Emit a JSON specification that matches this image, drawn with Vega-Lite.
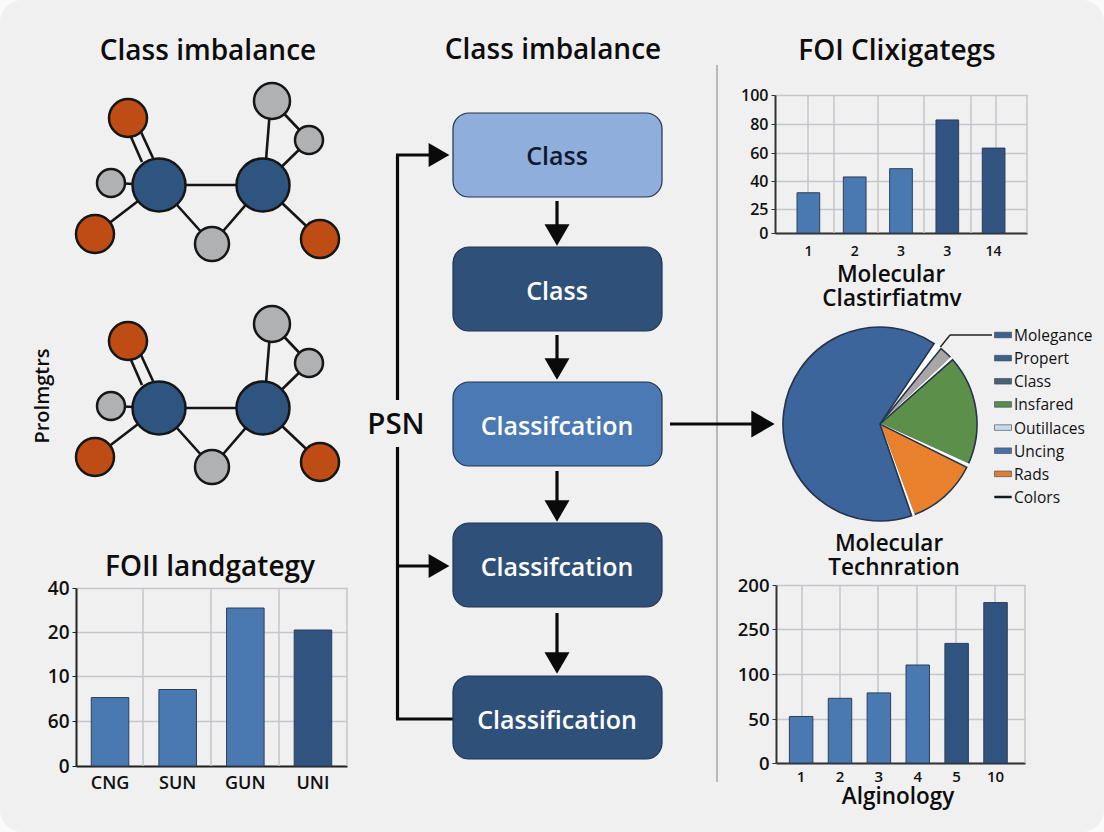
{
"$schema":"https://vega.github.io/schema/vega-lite/v6.json",
"width":1104,"height":832,"padding":0,"autosize":{"type":"none"},
"background":"#fbfbfb",
"view":{"fill":"#f0f0f1","cornerRadius":22,"stroke":null},
"config":{"font":"Open Sans","axis":{"labelFont":"Open Sans","labelFontWeight":600,"labelColor":"#111111","title":null}},
"datasets":{
"segments":[
{"kind":"grid","x":808,"y":95,"x2":808,"y2":233},{"kind":"grid","x":834,"y":95,"x2":834,"y2":233},{"kind":"grid","x":878,"y":95,"x2":878,"y2":233},{"kind":"grid","x":924,"y":95,"x2":924,"y2":233},{"kind":"grid","x":971,"y":95,"x2":971,"y2":233},{"kind":"grid","x":996,"y":95,"x2":996,"y2":233},{"kind":"grid","x":1027,"y":95,"x2":1027,"y2":233},
{"kind":"grid","x":143,"y":588,"x2":143,"y2":766},{"kind":"grid","x":211,"y":588,"x2":211,"y2":766},{"kind":"grid","x":279,"y":588,"x2":279,"y2":766},{"kind":"grid","x":347,"y":588,"x2":347,"y2":766},
{"kind":"grid","x":802,"y":585,"x2":802,"y2":763},{"kind":"grid","x":840,"y":585,"x2":840,"y2":763},{"kind":"grid","x":878,"y":585,"x2":878,"y2":763},{"kind":"grid","x":917,"y":585,"x2":917,"y2":763},{"kind":"grid","x":956,"y":585,"x2":956,"y2":763},{"kind":"grid","x":995,"y":585,"x2":995,"y2":763},{"kind":"grid","x":1025,"y":585,"x2":1025,"y2":763},
{"kind":"sep","x":717,"y":65,"x2":717,"y2":782},
{"kind":"bond","x":159,"y":185,"x2":263,"y2":185},{"kind":"bond","x":159,"y":185,"x2":111,"y2":183},{"kind":"bond","x":159,"y":185,"x2":95,"y2":234},{"kind":"bond","x":159,"y":185,"x2":212,"y2":244},{"kind":"bond","x":263,"y":185,"x2":212,"y2":244},{"kind":"bond","x":263,"y":185,"x2":320,"y2":239},{"kind":"bond","x":266,"y":160,"x2":270,"y2":110},{"kind":"bond","x":272,"y":101,"x2":309,"y2":140},{"kind":"bond","x":263,"y":185,"x2":309,"y2":140},{"kind":"bond","x":131,"y":137,"x2":142,"y2":162},{"kind":"bond","x":141,"y":132,"x2":153,"y2":158},
{"kind":"bond","x":159,"y":408,"x2":263,"y2":408},{"kind":"bond","x":159,"y":408,"x2":111,"y2":406},{"kind":"bond","x":159,"y":408,"x2":95,"y2":457},{"kind":"bond","x":159,"y":408,"x2":212,"y2":467},{"kind":"bond","x":263,"y":408,"x2":212,"y2":467},{"kind":"bond","x":263,"y":408,"x2":320,"y2":462},{"kind":"bond","x":266,"y":383,"x2":270,"y2":333},{"kind":"bond","x":272,"y":324,"x2":309,"y2":363},{"kind":"bond","x":263,"y":408,"x2":309,"y2":363},{"kind":"bond","x":131,"y":360,"x2":142,"y2":385},{"kind":"bond","x":141,"y":355,"x2":153,"y2":381},
{"kind":"flow","x":557,"y":201,"x2":557,"y2":230},{"kind":"flow","x":557,"y":335,"x2":557,"y2":364},{"kind":"flow","x":557,"y":471,"x2":557,"y2":505},{"kind":"flow","x":557,"y":613,"x2":557,"y2":658},
{"kind":"flow","x":397.5,"y":155,"x2":397.5,"y2":400},{"kind":"flow","x":397.5,"y":447,"x2":397.5,"y2":719},{"kind":"flow","x":396,"y":155,"x2":432,"y2":155},{"kind":"flow","x":396,"y":566,"x2":432,"y2":566},{"kind":"flow","x":396,"y":719,"x2":453,"y2":719},{"kind":"flow","x":670,"y":424,"x2":756,"y2":424},
{"kind":"leader","x":992,"y":335,"x2":950,"y2":335},{"kind":"leader","x":950,"y":335,"x2":938,"y2":350}
],
"nodes":[
{"kind":"hub","x":159,"y":185},{"kind":"hub","x":263,"y":185},{"kind":"oxygen","x":128,"y":118},{"kind":"oxygen","x":95,"y":234},{"kind":"oxygen","x":320,"y":239},{"kind":"large","x":272,"y":101},{"kind":"small","x":309,"y":140},{"kind":"small","x":111,"y":183},{"kind":"medium","x":212,"y":244},
{"kind":"hub","x":159,"y":408},{"kind":"hub","x":263,"y":408},{"kind":"oxygen","x":128,"y":341},{"kind":"oxygen","x":95,"y":457},{"kind":"oxygen","x":320,"y":462},{"kind":"large","x":272,"y":324},{"kind":"small","x":309,"y":363},{"kind":"small","x":111,"y":406},{"kind":"medium","x":212,"y":467}
],
"arrows":[
{"kind":"down","x":557,"y":235},{"kind":"down","x":557,"y":369},{"kind":"down","x":557,"y":511},{"kind":"down","x":557,"y":663},{"kind":"right","x":439,"y":155},{"kind":"right","x":439,"y":566},{"kind":"main","x":763,"y":424}
],
"boxes":[
{"step":"light","x":453,"x2":662,"y":113,"y2":197},{"step":"dark","x":453,"x2":662,"y":247,"y2":331},{"step":"mid","x":453,"x2":662,"y":382,"y2":466},{"step":"dark","x":453,"x2":662,"y":523,"y2":607},{"step":"dark","x":453,"x2":662,"y":676,"y2":759}
],
"labels":[
{"text":"Class imbalance","x":208,"y":52,"role":"title"},{"text":"Class imbalance","x":553,"y":51,"role":"title"},{"text":"FOI Clixigategs","x":897,"y":52,"role":"title"},{"text":"FOII landgategy","x":210,"y":568,"role":"title"},
{"text":"Molecular","x":891,"y":275,"role":"heading"},{"text":"Clastirfiatmv","x":892,"y":299,"role":"heading"},{"text":"Molecular","x":889,"y":544,"role":"heading"},{"text":"Technration","x":894,"y":568,"role":"heading"},{"text":"Alginology","x":898,"y":797,"role":"heading"},
{"text":"PSN","x":396,"y":425,"role":"psn"},
{"text":"Class","x":557,"y":157,"role":"boxdark"},{"text":"Class","x":557,"y":292,"role":"boxlight"},{"text":"Classifcation","x":557,"y":427,"role":"boxlight"},{"text":"Classifcation","x":557,"y":568,"role":"boxlight"},{"text":"Classification","x":557,"y":721,"role":"boxlight"}
],
"pie":[
{"slice":"gapA","order":1,"share":5},{"slice":"Gray","order":2,"share":8},{"slice":"gapB","order":3,"share":1.5},{"slice":"Green","order":4,"share":66},{"slice":"gapC","order":5,"share":2},{"slice":"Orange","order":6,"share":43},{"slice":"gapD","order":7,"share":1.5},{"slice":"Blue","order":8,"share":233}
],
"legendRows":[{"name":"Molegance"},{"name":"Propert"},{"name":"Class"},{"name":"Insfared"},{"name":"Outillaces"},{"name":"Uncing"},{"name":"Rads"},{"name":"Colors"}]
},
"layer":[
{"data":{"name":"segments"},"mark":{"type":"rule"},"encoding":{
"x":{"field":"x","type":"quantitative","axis":null,"scale":{"domain":[0,1104],"range":[0,1104]}},"x2":{"field":"x2"},
"y":{"field":"y","type":"quantitative","axis":null,"scale":{"domain":[0,832],"range":[0,832]}},"y2":{"field":"y2"},
"color":{"field":"kind","type":"nominal","legend":null,"scale":{"domain":["grid","sep","bond","flow","leader"],"range":["#c4c6c9","#b7b9bc","#151515","#0a0a0a","#222222"]}},
"size":{"field":"kind","type":"ordinal","legend":null,"scale":{"type":"ordinal","domain":["grid","sep","bond","flow","leader"],"range":[1.5,2,2.6,3.2,1.4]}}}},
{"data":{"name":"nodes"},"mark":{"type":"circle","opacity":1,"stroke":"#161616","strokeWidth":2.5},"encoding":{
"x":{"field":"x","type":"quantitative","axis":null,"scale":{"domain":[0,1104],"range":[0,1104]}},
"y":{"field":"y","type":"quantitative","axis":null,"scale":{"domain":[0,832],"range":[0,832]}},
"color":{"field":"kind","type":"nominal","legend":null,"scale":{"domain":["hub","oxygen","large","medium","small"],"range":["#2e5480","#bf4c14","#b0b1b3","#b0b1b3","#b0b1b3"]}},
"size":{"field":"kind","type":"ordinal","legend":null,"scale":{"type":"ordinal","domain":["hub","oxygen","large","medium","small"],"range":[2809,1444,1296,1156,784]}}}},
{"data":{"name":"boxes"},"mark":{"type":"rect","cornerRadius":16,"stroke":"#1f3450","strokeWidth":1.2},"encoding":{
"x":{"field":"x","type":"quantitative","axis":null,"scale":{"domain":[0,1104],"range":[0,1104]}},"x2":{"field":"x2"},
"y":{"field":"y","type":"quantitative","axis":null,"scale":{"domain":[0,832],"range":[0,832]}},"y2":{"field":"y2"},
"color":{"field":"step","type":"nominal","legend":null,"scale":{"domain":["light","mid","dark"],"range":["#90aedb","#4a79b3","#2f5179"]}}}},
{"data":{"name":"arrows"},"mark":{"type":"point","filled":true,"opacity":1,"color":"#0a0a0a"},"encoding":{
"x":{"field":"x","type":"quantitative","axis":null,"scale":{"domain":[0,1104],"range":[0,1104]}},
"y":{"field":"y","type":"quantitative","axis":null,"scale":{"domain":[0,832],"range":[0,832]}},
"shape":{"field":"kind","type":"nominal","legend":null,"scale":{"domain":["down","right","main"],"range":["triangle-down","triangle-right","triangle-right"]}},
"size":{"field":"kind","type":"ordinal","legend":null,"scale":{"type":"ordinal","domain":["down","right","main"],"range":[625,576,729]}}}},
{"data":{"name":"pie"},"mark":{"type":"arc","outerRadius":97,"strokeWidth":1.6},"encoding":{
"x":{"datum":880,"type":"quantitative","stack":null,"axis":null,"scale":{"domain":[0,1104],"range":[0,1104]}},
"y":{"datum":424,"type":"quantitative","stack":null,"axis":null,"scale":{"domain":[0,832],"range":[0,832]}},
"theta":{"field":"share","type":"quantitative","scale":{"domain":[0,360],"range":[0.593,6.876]}},
"order":{"field":"order"},
"color":{"field":"slice","type":"nominal","legend":null,"scale":{"domain":["gapA","Gray","gapB","Green","gapC","Orange","gapD","Blue"],"range":["#ffffff","#a9a6a6","#ffffff","#5b8f4a","#ffffff","#e8802c","#ffffff","#3b659b"]}},
"stroke":{"field":"slice","type":"nominal","legend":null,"scale":{"domain":["gapA","Gray","gapB","Green","gapC","Orange","gapD","Blue"],"range":["#ffffff","#26334a","#ffffff","#26334a","#ffffff","#26334a","#ffffff","#26334a"]}}}},
{"data":{"name":"legendRows"},"mark":{"type":"point","filled":true,"opacity":1,"stroke":"#33445c","strokeWidth":0.6},"encoding":{
"x":{"datum":1003,"type":"quantitative","axis":null,"scale":{"domain":[0,1104],"range":[0,1104]}},
"y":{"field":"name","type":"nominal","axis":null,"sort":null,"scale":{"type":"point","padding":0,"domain":["Molegance","Propert","Class","Insfared","Outillaces","Uncing","Rads","Colors"],"range":[335,497]}},
"color":{"field":"name","type":"nominal","legend":null,"scale":{"domain":["Molegance","Propert","Class","Insfared","Outillaces","Uncing","Rads","Colors"],"range":["#3f6088","#3f6088","#4d6070","#5b8c4a","#c5dbe8","#4d6fa5","#e07e2d","#0a0a0a"]}},
"shape":{"field":"name","type":"nominal","legend":null,"scale":{"domain":["Molegance","Propert","Class","Insfared","Outillaces","Uncing","Rads","Colors"],"range":["M-1,-0.33H1V0.33H-1Z","M-1,-0.33H1V0.33H-1Z","M-1,-0.33H1V0.33H-1Z","M-1,-0.33H1V0.33H-1Z","M-1,-0.33H1V0.33H-1Z","M-1,-0.33H1V0.33H-1Z","M-1,-0.33H1V0.33H-1Z","M-1,-0.12H1V0.12H-1Z"]}},
"size":{"value":289}}},
{"data":{"name":"legendRows"},"mark":{"type":"text","align":"left","baseline":"middle","fontSize":15.5,"font":"Open Sans","color":"#111111"},"encoding":{
"x":{"datum":1014,"type":"quantitative","axis":null,"scale":{"domain":[0,1104],"range":[0,1104]}},
"y":{"field":"name","type":"nominal","axis":null,"sort":null,"scale":{"type":"point","padding":0,"domain":["Molegance","Propert","Class","Insfared","Outillaces","Uncing","Rads","Colors"],"range":[336,498]}},
"text":{"field":"name"}}},
{"data":{"values":[{"id":"1","v":33.7},{"id":"2","v":42.9},{"id":"3","v":48.8},{"id":"3 ","v":82.8},{"id":"14","v":63.4}]},
"mark":{"type":"bar","stroke":"#2b3f5c","strokeWidth":1},"encoding":{
"x":{"field":"id","type":"nominal","sort":null,"scale":{"domain":["1","2","3","3 ","14"],"range":[775,1027],"paddingInner":0.51,"paddingOuter":0.476},"axis":{"orient":"bottom","offset":-599,"labelAngle":0,"labelFontSize":14,"labelPadding":11,"ticks":false,"domainColor":"#333333","domainWidth":2,"grid":false}},
"y":{"field":"v","type":"quantitative","stack":null,"scale":{"domain":[0,25,40,60,80,100],"range":[233,209,181,153,124,95],"nice":false},"axis":{"orient":"left","offset":-775,"values":[0,25,40,60,80,100],"labelFontSize":16,"labelPadding":3,"tickSize":4,"tickColor":"#333333","domainColor":"#333333","domainWidth":2,"grid":true,"gridColor":"#c4c6c9","gridWidth":1.5}},
"color":{"field":"id","type":"nominal","legend":null,"scale":{"domain":["1","2","3","3 ","14"],"range":["#4a78b0","#4a78b0","#4a78b0","#305380","#305380"]}}}},
{"data":{"values":[{"id":"CNG","v":7.6},{"id":"SUN","v":8.5},{"id":"GUN","v":30.9},{"id":"UNI","v":20.9}]},
"mark":{"type":"bar","stroke":"#2b3f5c","strokeWidth":1},"encoding":{
"x":{"field":"id","type":"nominal","sort":null,"scale":{"domain":["CNG","SUN","GUN","UNI"],"range":[76,347],"paddingInner":0.445,"paddingOuter":0.2255},"axis":{"orient":"bottom","offset":-66,"labelAngle":0,"labelFontSize":18,"labelPadding":8,"ticks":false,"domainColor":"#222222","domainWidth":2,"grid":false}},
"y":{"field":"v","type":"quantitative","stack":null,"scale":{"domain":[0,5,10,20,40],"range":[766,721,676,632,588],"nice":false},"axis":{"orient":"left","offset":-76,"values":[0,5,10,20,40],"labelExpr":"datum.value==5?'60':datum.label","labelFontSize":19,"labelPadding":3,"tickSize":4,"tickColor":"#222222","domainColor":"#222222","domainWidth":2,"grid":true,"gridColor":"#c4c6c9","gridWidth":1.5}},
"color":{"field":"id","type":"nominal","legend":null,"scale":{"domain":["CNG","SUN","GUN","UNI"],"range":["#4a78b0","#4a78b0","#4a78b0","#305380"]}}}},
{"data":{"values":[{"id":"1","v":52.8},{"id":"2","v":73},{"id":"3","v":79},{"id":"4","v":110},{"id":"5","v":134},{"id":"10","v":180}]},
"mark":{"type":"bar","stroke":"#2b3f5c","strokeWidth":1},"encoding":{
"x":{"field":"id","type":"nominal","sort":null,"scale":{"domain":["1","2","3","4","5","10"],"range":[776,1025],"paddingInner":0.396,"paddingOuter":0.4,"align":0.43},"axis":{"orient":"bottom","offset":-69,"labelAngle":0,"labelFontSize":15,"labelPadding":6,"ticks":false,"domainColor":"#333333","domainWidth":2,"grid":false}},
"y":{"field":"v","type":"quantitative","stack":null,"scale":{"domain":[0,50,100,150,200],"range":[763,719,674,629,585],"nice":false},"axis":{"orient":"left","offset":-776,"values":[0,50,100,150,200],"labelExpr":"datum.value==150?'250':datum.label","labelFontSize":18.5,"labelPadding":3,"tickSize":4,"tickColor":"#333333","domainColor":"#333333","domainWidth":2,"grid":true,"gridColor":"#c4c6c9","gridWidth":1.5}},
"color":{"field":"id","type":"nominal","legend":null,"scale":{"domain":["1","2","3","4","5","10"],"range":["#4a78b0","#4a78b0","#4a78b0","#4a78b0","#305380","#305380"]}}}},
{"data":{"name":"labels"},"mark":{"type":"text","align":"center","baseline":"middle","font":"Open Sans","fontWeight":600},"encoding":{
"x":{"field":"x","type":"quantitative","axis":null,"scale":{"domain":[0,1104],"range":[0,1104]}},
"y":{"field":"y","type":"quantitative","axis":null,"scale":{"domain":[0,832],"range":[0,832]}},
"text":{"field":"text"},
"color":{"field":"role","type":"nominal","legend":null,"scale":{"domain":["title","heading","psn","boxdark","boxlight"],"range":["#0d0d0d","#0d0d0d","#0d0d0d","#0d1a30","#ffffff"]}},
"size":{"field":"role","type":"ordinal","legend":null,"scale":{"type":"ordinal","domain":["title","heading","psn","boxdark","boxlight"],"range":[28,22.5,29.5,25,25]}}}},
{"data":{"values":[{"text":"Prolmgtrs","x":43,"y":396}]},"mark":{"type":"text","align":"center","baseline":"middle","angle":270,"fontSize":20,"fontWeight":600,"font":"Open Sans","color":"#0d0d0d"},"encoding":{
"x":{"field":"x","type":"quantitative","axis":null,"scale":{"domain":[0,1104],"range":[0,1104]}},
"y":{"field":"y","type":"quantitative","axis":null,"scale":{"domain":[0,832],"range":[0,832]}},
"text":{"field":"text"}}}
],
"resolve":{"scale":{"x":"independent","y":"independent","color":"independent","size":"independent","shape":"independent","theta":"independent","stroke":"independent"}}
}
